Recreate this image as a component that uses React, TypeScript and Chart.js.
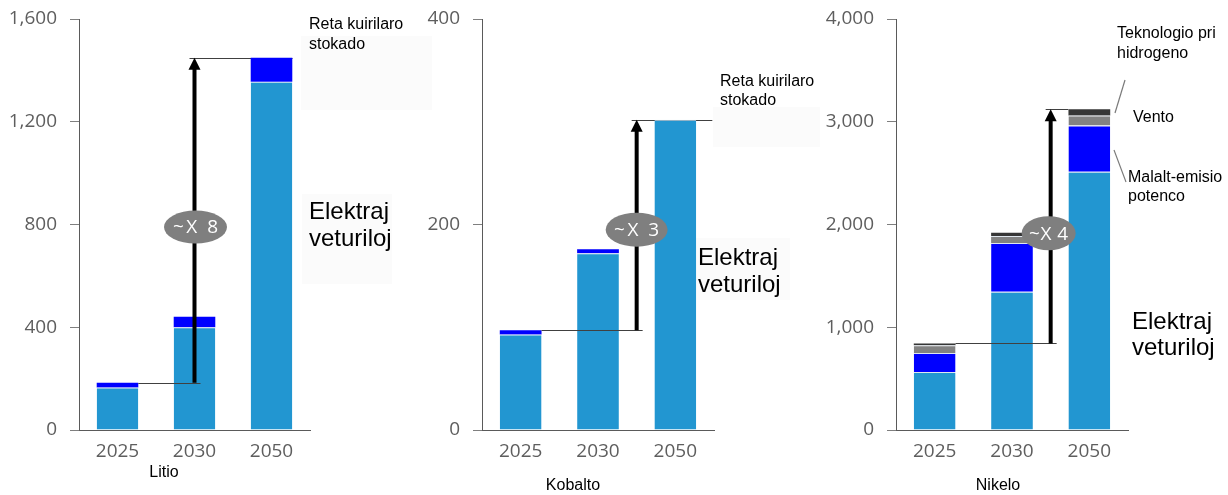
import React, { useEffect, useRef } from 'react';
import { Chart, registerables } from 'chart.js';

Chart.register(...registerables);

// Categories shared by all three panels
const YEARS = ['2025', '2030', '2050'];

// Lithium demand (kt)
const LITIO_EV = [165, 400, 1356];
const LITIO_STORAGE = [19, 41, 93];

// Cobalt demand (kt)
const KOBALTO_EV = [93, 172, 302];
const KOBALTO_STORAGE = [4, 4, 0];

// Nickel demand (kt)
const NIKELO_EV = [564, 1346, 2514];
const NIKELO_LOW_EMISSION = [185, 474, 449];
const NIKELO_WIND = [76, 68, 98];
const NIKELO_HYDROGEN = [18, 32, 60];

// Axis ranges
const LITIO_AXIS = { max: 1600, step: 400 };
const KOBALTO_AXIS = { max: 400, step: 200 };
const NIKELO_AXIS = { max: 4000, step: 1000 };

// Growth labels shown on the arrows
const LITIO_GROWTH = '~X 8';
const KOBALTO_GROWTH = '~X 3';
const NIKELO_GROWTH = '~X 4';

const C_EV = '#2296d1';
const C_BLUE = '#0000ff';
const C_WIND = '#828282';
const C_H2 = '#363636';
const C_SEP = '#dfe6ee';
const C_AXIS = '#5a5a5a';
const C_TICK = '#5e5e5e';
const C_FAINT = '#fbfbfb';

const SANS = '"Liberation Sans", Arial, sans-serif';
const TICK_FONT = '"Open Sans", "Segoe UI", sans-serif';

type Series = { label: string; data: number[]; color: string; sep: boolean };
type Txt = { text: string; x: number; y: number; size: number; align?: CanvasTextAlign };

type Panel = {
  key: string;
  left: number;
  width: number;
  areaLeft: number;
  areaRight: number;
  axis: { max: number; step: number };
  series: Series[];
  growth: string;
  growthSpacing: number;
  growthAt: number; // value on the y axis where the ellipse sits
  growthDx: number;
  ellipse: { w: number; h: number };
  arrowAt: number; // category position of the arrow
  topLineEnd: number; // offset from the 2050 bar centre
  texts: Txt[];
  leaders: number[][];
  faint: number[][];
};

const PANELS: Panel[] = [
  {
    key: 'litio',
    left: 0,
    width: 420,
    areaLeft: 79,
    areaRight: 310,
    axis: LITIO_AXIS,
    series: [
      { label: 'Elektraj veturiloj', data: LITIO_EV, color: C_EV, sep: true },
      { label: 'Reta kuirilaro stokado', data: LITIO_STORAGE, color: C_BLUE, sep: false },
    ],
    growth: LITIO_GROWTH,
    growthSpacing: 2.5,
    growthAt: 790,
    growthDx: 1,
    ellipse: { w: 63, h: 33 },
    arrowAt: 1,
    topLineEnd: 21,
    texts: [
      { text: 'Reta kuirilaro', x: 309, y: 25, size: 16 },
      { text: 'stokado', x: 309, y: 45, size: 16 },
      { text: 'Elektraj', x: 309, y: 212, size: 24 },
      { text: 'veturiloj', x: 309, y: 239, size: 24 },
      { text: 'Litio', x: 164, y: 473, size: 16, align: 'center' },
    ],
    leaders: [],
    faint: [
      [301, 36, 131, 74],
      [302, 194, 90, 90],
    ],
  },
  {
    key: 'kobalto',
    left: 420,
    width: 400,
    areaLeft: 62,
    areaRight: 294,
    axis: KOBALTO_AXIS,
    series: [
      { label: 'Elektraj veturiloj', data: KOBALTO_EV, color: C_EV, sep: true },
      { label: 'Reta kuirilaro stokado', data: KOBALTO_STORAGE, color: C_BLUE, sep: false },
    ],
    growth: KOBALTO_GROWTH,
    growthSpacing: 2.5,
    growthAt: 195,
    growthDx: 0,
    ellipse: { w: 62, h: 34 },
    arrowAt: 1.5,
    topLineEnd: 37,
    texts: [
      { text: 'Reta kuirilaro', x: 300, y: 82, size: 16 },
      { text: 'stokado', x: 300, y: 101, size: 16 },
      { text: 'Elektraj', x: 278, y: 258, size: 24 },
      { text: 'veturiloj', x: 278, y: 285, size: 24 },
      { text: 'Kobalto', x: 153, y: 486, size: 16, align: 'center' },
    ],
    leaders: [],
    faint: [
      [0, 36, 12, 74],
      [293, 107, 107, 40],
      [275, 238, 95, 62],
    ],
  },
  {
    key: 'nikelo',
    left: 820,
    width: 408,
    areaLeft: 76,
    areaRight: 308,
    axis: NIKELO_AXIS,
    series: [
      { label: 'Elektraj veturiloj', data: NIKELO_EV, color: C_EV, sep: true },
      { label: 'Malalt-emisio potenco', data: NIKELO_LOW_EMISSION, color: C_BLUE, sep: true },
      { label: 'Vento', data: NIKELO_WIND, color: C_WIND, sep: true },
      { label: 'Teknologio pri hidrogeno', data: NIKELO_HYDROGEN, color: C_H2, sep: false },
    ],
    growth: NIKELO_GROWTH,
    growthSpacing: 0.5,
    growthAt: 1915,
    growthDx: -2,
    ellipse: { w: 54, h: 34 },
    arrowAt: 1.5,
    topLineEnd: -21,
    texts: [
      { text: 'Teknologio pri', x: 297, y: 34, size: 16 },
      { text: 'hidrogeno', x: 297, y: 54, size: 16 },
      { text: 'Vento', x: 313, y: 118, size: 16 },
      { text: 'Malalt-emisio', x: 308, y: 178, size: 16 },
      { text: 'potenco', x: 308, y: 197, size: 16 },
      { text: 'Elektraj', x: 312, y: 322, size: 24 },
      { text: 'veturiloj', x: 312, y: 348, size: 24 },
      { text: 'Nikelo', x: 178, y: 486, size: 16, align: 'center' },
    ],
    leaders: [
      [305, 80, 295, 113],
      [294, 150, 306, 182],
    ],
    faint: [],
  },
];

// Draws the growth arrow, reference lines, ellipse badge and side labels
function annotations(p: Panel) {
  const totals = YEARS.map((_, i) => p.series.reduce((s, d) => s + d.data[i], 0));
  const geometry = (chart: any) => {
    const x = chart.scales.x;
    const y = chart.scales.y;
    const first = chart.getDatasetMeta(0).data[0] as any;
    const last = chart.getDatasetMeta(0).data[YEARS.length - 1] as any;
    return {
      xArrow: x.getPixelForValue(p.arrowAt),
      yBase: y.getPixelForValue(totals[0]),
      yTop: y.getPixelForValue(totals[YEARS.length - 1]),
      firstRight: first.x + first.width / 2,
      lastX: last.x,
      yGrowth: y.getPixelForValue(p.growthAt),
    };
  };
  return {
    id: 'annotations',
    beforeDatasetsDraw(chart: any) {
      const ctx: CanvasRenderingContext2D = chart.ctx;
      const g = geometry(chart);
      ctx.save();
      ctx.fillStyle = C_FAINT;
      p.faint.forEach(([fx, fy, fw, fh]) => ctx.fillRect(fx, fy, fw, fh));
      ctx.strokeStyle = '#404040';
      ctx.lineWidth = 1;
      ctx.beginPath();
      ctx.moveTo(g.xArrow - 5, Math.round(g.yTop) + 0.5);
      ctx.lineTo(g.lastX + p.topLineEnd, Math.round(g.yTop) + 0.5);
      ctx.stroke();
      ctx.restore();
    },
    afterDatasetsDraw(chart: any) {
      const ctx: CanvasRenderingContext2D = chart.ctx;
      const g = geometry(chart);
      ctx.save();
      // line from the 2025 total
      ctx.strokeStyle = '#404040';
      ctx.lineWidth = 1;
      ctx.beginPath();
      ctx.moveTo(g.firstRight, Math.round(g.yBase) + 0.5);
      ctx.lineTo(g.xArrow + 6, Math.round(g.yBase) + 0.5);
      ctx.stroke();

      // arrow
      const head = 12;
      ctx.strokeStyle = '#000';
      ctx.fillStyle = '#000';
      ctx.lineWidth = 4;
      ctx.beginPath();
      ctx.moveTo(g.xArrow, g.yBase);
      ctx.lineTo(g.xArrow, g.yTop + head - 1);
      ctx.stroke();
      ctx.beginPath();
      ctx.moveTo(g.xArrow, g.yTop);
      ctx.lineTo(g.xArrow - 6, g.yTop + head);
      ctx.lineTo(g.xArrow + 6, g.yTop + head);
      ctx.closePath();
      ctx.fill();

      // growth badge
      const ex = g.xArrow + p.growthDx;
      ctx.fillStyle = '#7f7f7f';
      ctx.beginPath();
      ctx.ellipse(ex, g.yGrowth, p.ellipse.w / 2, p.ellipse.h / 2, 0, 0, Math.PI * 2);
      ctx.fill();
      ctx.fillStyle = '#ffffff';
      ctx.font = `19px ${TICK_FONT}`;
      (ctx as any).letterSpacing = `${p.growthSpacing}px`;
      ctx.textAlign = 'center';
      ctx.textBaseline = 'middle';
      ctx.fillText(p.growth, ex + p.growthSpacing / 2, g.yGrowth + 1);
      (ctx as any).letterSpacing = '0px';

      // leader lines
      ctx.strokeStyle = '#7a7a7a';
      ctx.lineWidth = 1.2;
      p.leaders.forEach(([x1, y1, x2, y2]) => {
        ctx.beginPath();
        ctx.moveTo(x1, y1);
        ctx.lineTo(x2, y2);
        ctx.stroke();
      });

      // labels
      ctx.fillStyle = '#000';
      ctx.textBaseline = 'middle';
      p.texts.forEach((t) => {
        ctx.font = `${t.size}px ${SANS}`;
        ctx.textAlign = t.align || 'left';
        ctx.fillText(t.text, t.x, t.y);
      });
      ctx.restore();
    },
  };
}

function PanelChart({ p }: { p: Panel }) {
  const ref = useRef<HTMLCanvasElement>(null);
  useEffect(() => {
    const canvas = ref.current;
    if (!canvas) return;
    const chart = new Chart(canvas, {
      type: 'bar',
      data: {
        labels: YEARS,
        datasets: p.series.map((s) => ({
          label: s.label,
          data: s.data,
          backgroundColor: s.color,
          borderColor: C_SEP,
          borderWidth: s.sep ? { top: 1, left: 0, right: 0, bottom: 0 } : 0,
          borderSkipped: 'start',
          barPercentage: 0.54,
          categoryPercentage: 1,
        })),
      },
      options: {
        responsive: false,
        animation: false,
        devicePixelRatio: 1,
        layout: { padding: { left: 0, top: 19, right: p.width - p.areaRight, bottom: 0 } },
        plugins: {
          legend: { display: false },
          tooltip: { enabled: false },
        },
        scales: {
          x: {
            stacked: true,
            grid: { display: false, drawTicks: false },
            border: { display: true, color: C_AXIS, width: 1 },
            ticks: { color: C_TICK, font: { family: TICK_FONT, size: 19 }, padding: 10 },
            afterFit: (s: any) => {
              s.height = 65;
              s.paddingLeft = 0;
              s.paddingRight = 0;
            },
          },
          y: {
            stacked: true,
            min: 0,
            max: p.axis.max,
            grid: { drawOnChartArea: false, drawTicks: true, tickLength: 9, color: '#7f7f7f' },
            border: { display: true, color: C_AXIS, width: 1 },
            ticks: {
              stepSize: p.axis.step,
              color: C_TICK,
              padding: 13,
              font: { family: TICK_FONT, size: 19 },
              callback: (v: any) => Number(v).toLocaleString('en-US'),
            },
            afterFit: (s: any) => {
              s.width = p.areaLeft;
              s.paddingTop = 0;
              s.paddingBottom = 0;
            },
          },
        },
      } as any,
      plugins: [annotations(p)],
    });
    return () => chart.destroy();
  }, [p]);
  return (
    <canvas
      ref={ref}
      width={p.width}
      height={495}
      style={{ position: 'absolute', left: p.left, top: 0, width: p.width, height: 495 }}
    />
  );
}

export default function App() {
  return (
    <div
      style={{
        position: 'absolute',
        left: 0,
        top: 0,
        width: 1228,
        height: 495,
        background: '#ffffff',
        overflow: 'hidden',
      }}
    >
      {PANELS.map((p) => (
        <PanelChart key={p.key} p={p} />
      ))}
    </div>
  );
}
